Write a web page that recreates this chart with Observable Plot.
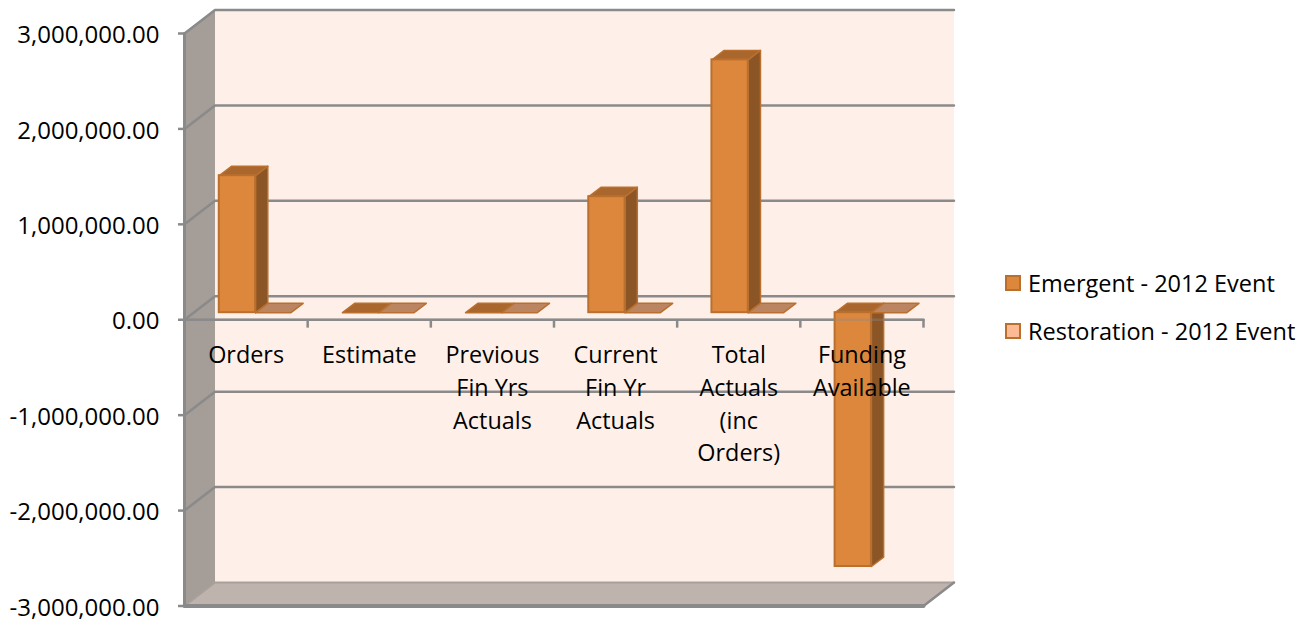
<!DOCTYPE html>
<html><head><meta charset="utf-8">
<script src="https://cdn.jsdelivr.net/npm/d3@7"></script>
<script src="https://cdn.jsdelivr.net/npm/@observablehq/plot@0.6"></script>
<style>
html,body{margin:0;padding:0;background:#fff;}
#wrap{position:relative;width:1309px;height:622px;overflow:hidden;font-family:"Open Sans",sans-serif;}
#legend{position:absolute;left:1005px;top:259px;color:#000;font-size:23.5px;line-height:48px;white-space:nowrap;}
#legend div{display:flex;align-items:center;height:48px;}
#legend i{display:block;width:12px;height:12px;margin-right:7px;border:2px solid #B9702F;}
svg text{font-family:"Open Sans",sans-serif;}
</style></head><body>
<div id="wrap"><div id="legend"></div></div>
<script>
const categories = ["Orders","Estimate","Previous\nFin Yrs\nActuals","Current\nFin Yr\nActuals","Total\nActuals\n(inc\nOrders)","Funding\nAvailable"];
const seriesNames = ["Emergent - 2012 Event","Restoration - 2012 Event"];
const emergent = [1436000,0,0,1216000,2650000,-2660000];
const restoration = [0,0,0,0,0,0];
const yTicks = [-3000000,-2000000,-1000000,0,1000000,2000000,3000000];

const colors = {wall:"#FEF0E9",side:"#A59D97",floor:"#BFB3AE",grid:"#8A8A8A",
  front:"#DD873C",top:"#A9662D",dark:"#8B5526",edge:"#B9702F",flat:"#BC8561",swatch2:"#FBB994"};

// Oblique projection: depth 0 is the front plane, depth 1 the back wall (in data units).
const depthX = 30.5/123.17, depthY = 246000;
const P = (i,v,d=0) => ({x:i+d*depthX, y:v+d*depthY});
const yMin = -3000000, yMax = 3000000, nCat = categories.length;
const face = (id,pts) => pts.map(([i,v,d]) => ({id,...P(i,v,d)}));
const poly = (rows,fill,stroke,sw=1.5,extra={}) => Plot.line(rows,{x:"x",y:"y",z:"id",curve:"linear-closed",fill,stroke,strokeWidth:sw,...extra});
const path = (rows,stroke,sw=2,extra={}) => Plot.line(rows,{x:"x",y:"y",z:"id",stroke,strokeWidth:sw,...extra});

// bar placement inside a category and inside the depth
const b0=0.208,b1=0.503,b2=0.79,d0=0.3,d1=0.7;
const bars = (vals,a,b,s) => vals.map((v,i)=>({s,i,v,a:i+a,b:i+b}));
const eBars = bars(emergent,b0,b1,"e"), rBars = bars(restoration,b1,b2,"r");
const topFace = r => face(r.s+r.i+"t",[[r.a,Math.max(r.v,0),d0],[r.b,Math.max(r.v,0),d0],[r.b,Math.max(r.v,0),d1],[r.a,Math.max(r.v,0),d1]]);
const sideFace = r => face(r.s+r.i+"s",[[r.b,0,d0],[r.b,r.v,d0],[r.b,r.v,d1],[r.b,0,d1]]);
const frontRect = r => ({...r,x1:P(r.a,0,d0).x,x2:P(r.b,0,d0).x,y1:P(0,0,d0).y,y2:P(0,r.v,d0).y});

const gridRows = yTicks.filter(v=>v>yMin).flatMap(v=>face("g"+v,[[0,v,0],[0,v,1],[nCat,v,1]]));
const fmt = v => d3.format(",.2f")(v).replace("\u2212","-");

const chart = Plot.plot({
  width:1309,height:622,marginLeft:184,marginRight:386,marginTop:33,marginBottom:16,
  style:{background:"transparent",overflow:"visible"},
  x:{domain:[0,nCat],range:[184,923],axis:null},
  y:{domain:[yMin,yMax],range:[605.5,33]},
  marks:[
    poly(face("back",[[0,yMin,1],[nCat,yMin,1],[nCat,yMax,1],[0,yMax,1]]),colors.wall,"none",0),
    poly(face("left",[[0,yMin,0],[0,yMax,0],[0,yMax,1],[0,yMin,1]]),colors.side,"none",0),
    poly(face("floor",[[0,yMin,0],[nCat,yMin,0],[nCat,yMin,1],[0,yMin,1]]),colors.floor,"none",0),
    path(face("floorBack",[[0,yMin,0],[0,yMin,1],[nCat,yMin,1]]),"#A8A09B",2),
    path(gridRows,colors.grid,2.5),
    path(face("right",[[nCat,yMin,0],[nCat,yMin,1]]),colors.grid,2.5),
    path(face("leftAxis",[[0,yMin,0],[0,yMax,0]]),colors.grid,3),
    path(face("bottomAxis",[[0,yMin,0],[nCat,yMin,0]]),colors.grid,4),
    path(face("zeroAxis",[[0,0,0],[nCat,0,0]]),colors.grid,2.5),
    Plot.ruleX(d3.range(1,nCat+1),{x:d=>d,y1:0,y2:-88000,stroke:colors.grid,strokeWidth:2.5}),
    Plot.axisY({ticks:yTicks,tickSize:6,fill:"none",stroke:colors.grid,strokeWidth:2.5,strokeOpacity:1,marginLeft:184}),
    Plot.axisY({ticks:yTicks,tickFormat:fmt,tickSize:0,tickPadding:25,dy:2,fontSize:24,fill:"#000",marginLeft:184}),
    poly(eBars.flatMap(topFace),colors.top,colors.edge),
    poly(eBars.filter(r=>r.v!==0).flatMap(sideFace),colors.dark,colors.edge),
    Plot.rect(eBars.map(frontRect),{x1:"x1",x2:"x2",y1:"y1",y2:"y2",fill:colors.front,stroke:colors.edge,strokeWidth:2}),
    poly(rBars.flatMap(topFace),colors.flat,colors.edge),
    Plot.rect(rBars.map(frontRect),{x1:"x1",x2:"x2",y1:"y1",y2:"y2",fill:colors.flat,stroke:colors.edge,strokeWidth:2}),
    path(face("zeroOver",[[0,0,0],[nCat,0,0]]),colors.grid,2.5,{strokeOpacity:0.35}),
    Plot.text(categories,{x:(d,i)=>i+0.5,y:()=>0,text:d=>d,dy:20,lineAnchor:"top",lineHeight:1.4,fontSize:23.4,fill:"#000"})
  ]
});
document.getElementById("wrap").prepend(chart);

const legend = document.getElementById("legend");
seriesNames.forEach((name,k)=>{
  const row=document.createElement("div");
  const sw=document.createElement("i");
  sw.style.background=k===0?colors.front:colors.swatch2;
  row.append(sw,document.createTextNode(name));
  legend.append(row);
});
</script>
</body></html>
